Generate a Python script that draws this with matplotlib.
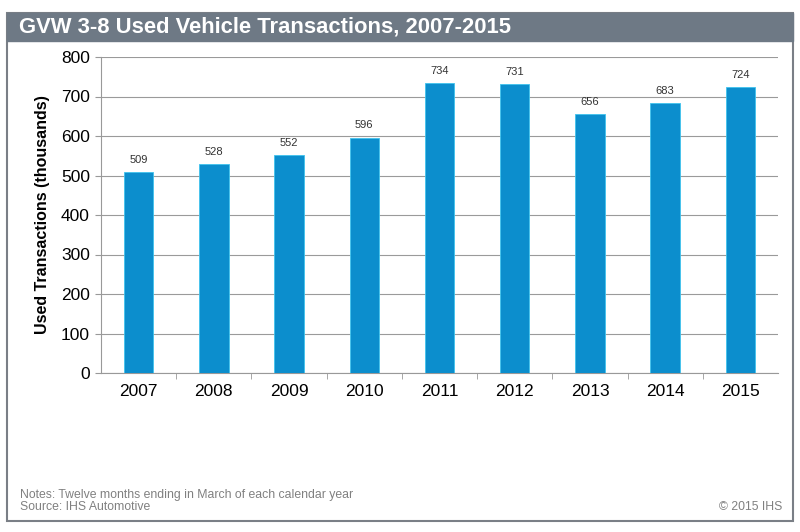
import matplotlib.pyplot as plt
from matplotlib.patches import Rectangle

years = ["2007", "2008", "2009", "2010", "2011", "2012", "2013", "2014", "2015"]
transactions = [509, 528, 552, 596, 734, 731, 656, 683, 724]
yticks = [0, 100, 200, 300, 400, 500, 600, 700, 800]

plt.rcParams['font.family'] = ['Liberation Sans', 'DejaVu Sans']

fig = plt.figure(figsize=(8, 5.32), dpi=100)

# outer frame and grey title bar
fig.patches.append(Rectangle((7/800, 1 - 521/532), 786/800, 508/532, transform=fig.transFigure,
                             fill=False, edgecolor="#7a7f86", linewidth=1.5))
fig.patches.append(Rectangle((7/800, 1 - 41/532), 786/800, 28/532, transform=fig.transFigure,
                             facecolor="#6e7985", edgecolor="#6e7985"))
fig.text(19/800, 1 - 27.5/532, "GVW 3-8 Used Vehicle Transactions, 2007-2015", color="white",
         fontsize=15.8, fontweight="bold", va="center", ha="left")

ax = fig.add_axes([101/800, 1 - 373/532, 677/800, 316/532])
x = range(len(years))
ax.bar(x, transactions, width=0.39, color="#0c8ecd", edgecolor="#3fc3ee", linewidth=0.6, zorder=3)
for xi, v in zip(x, transactions):
    ax.text(xi, v + 18, str(v), ha="center", va="bottom", fontsize=8, color="#333333")

ax.set_xlim(-0.5, len(years) - 0.5)
ax.set_ylim(0, 800)
ax.set_yticks(yticks)
ax.set_yticklabels([str(t) for t in yticks], fontsize=12.5)
ax.set_xticks(list(x))
ax.set_xticklabels(years, fontsize=12.5)
ax.set_xticks([i + 0.5 for i in range(len(years) - 1)], minor=True)
ax.tick_params(axis="x", which="major", length=0, pad=8)
ax.tick_params(axis="x", which="minor", length=4, color="#999999", direction="out")
ax.tick_params(axis="y", length=4, color="#999999", pad=4)
ax.grid(axis="y", color="#9a9a9a", linewidth=0.8, zorder=0)
for s in ["top", "right"]:
    ax.spines[s].set_visible(False)
ax.spines["left"].set_color("#999999")
ax.spines["bottom"].set_color("#999999")
ax.set_ylabel("Used Transactions (thousands)", fontsize=11.5, fontweight="bold", labelpad=8)

fig.text(20/800, 1 - 495/532, "Notes: Twelve months ending in March of each calendar year",
         fontsize=8.8, color="#808080", va="center")
fig.text(20/800, 1 - 507/532, "Source: IHS Automotive", fontsize=8.8, color="#808080", va="center")
fig.text(782/800, 1 - 507/532, "\u00a9 2015 IHS", fontsize=8.8, color="#808080", va="center", ha="right")

fig.savefig("out.png", dpi=100)
